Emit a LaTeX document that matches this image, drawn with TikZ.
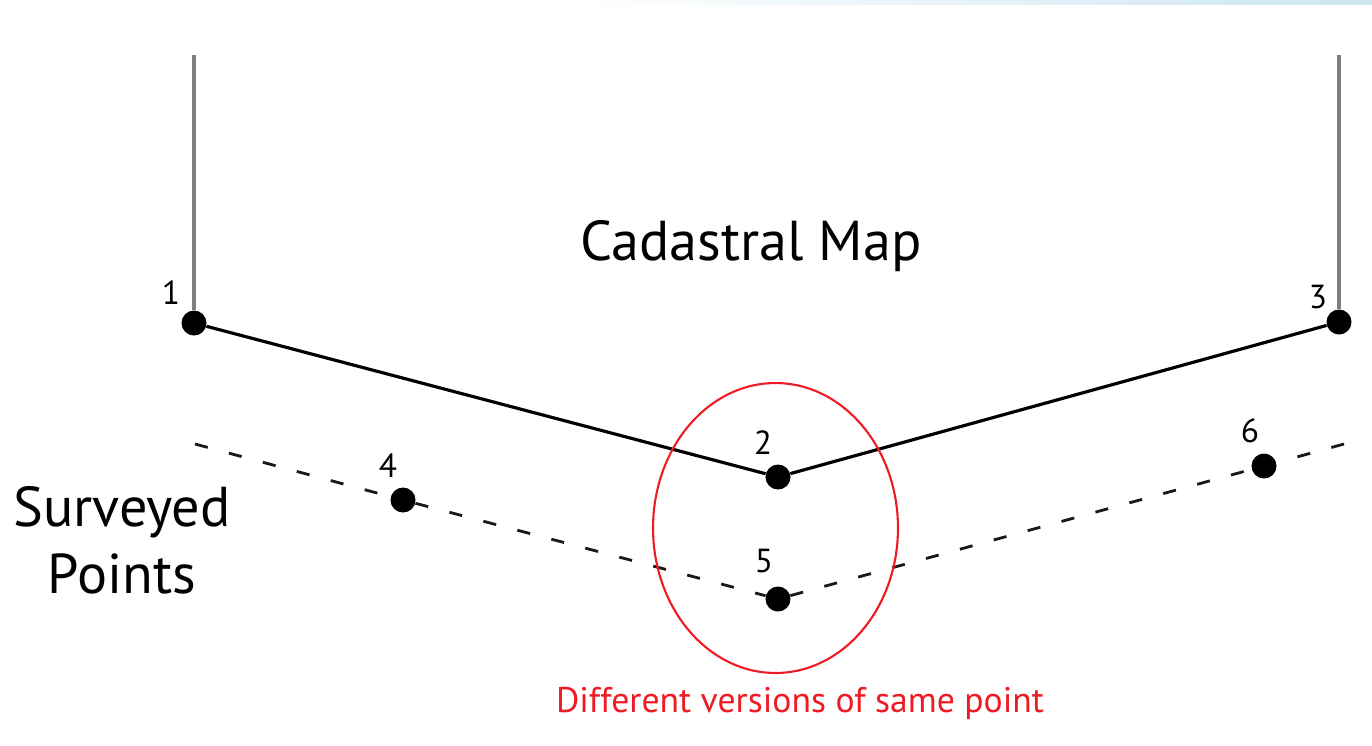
\documentclass[tikz,border=0pt]{standalone}
\usepackage{fontspec}
\setmainfont{PT Sans}
\usetikzlibrary{shapes.geometric}
\definecolor{ringred}{RGB}{237,28,36}
\definecolor{bandblue}{RGB}{205,230,242}
\begin{document}
\begin{tikzpicture}[x=0.02cm,y=-0.02cm,
  dot/.style={circle,fill=black,inner sep=0pt,minimum size=0.5cm},
  numlbl/.style={inner sep=0pt,font=\fontsize{19pt}{20pt}\selectfont},
  bigtxt/.style={inner sep=0pt,font=\fontsize{32pt}{38pt}\selectfont,align=center},
  maplines/.style={line width=1.8pt,black},
  survey/.style={line width=1.6pt,black!90,dash pattern=on 7.5pt off 12.5pt},
  post/.style={line width=2.6pt,black!50}]
\useasboundingbox (0,0) rectangle (1372,745);
\shade[left color=white,right color=bandblue] (560,0) rectangle (1372,4);
% points
\node[dot] (p1) at (194,323) {};
\node[dot] (p2) at (778,477) {};
\node[dot] (p3) at (1339,322) {};
\node[dot] (p4) at (403,500) {};
\node[dot] (p5) at (778,599) {};
\node[dot] (p6) at (1264,466) {};
\coordinate (t1) at (194,55);
\coordinate (t3) at (1339,55);
\coordinate (d0) at (195,444);
\coordinate (d1) at (1344,444);
% lines
\draw[post] (t1) -- (p1);
\draw[post] (t3) -- (p3);
\draw[maplines] (p1) -- (p2) -- (p3);
\draw[survey] (d0) -- (p4) -- (p5) -- (p6);
\draw[survey] (d1) -- (p6);
% ellipse
\node[draw=ringred,line width=1.2pt,ellipse,minimum width=4.9cm,minimum height=5.8cm,inner sep=0pt] (ring) at (775.5,528) {};
% labels
\node[numlbl] (l1) at (171,293) {1};
\node[numlbl] (l2) at (763,443) {2};
\node[numlbl] (l3) at (1318,297) {3};
\node[numlbl] (l4) at (388,466) {4};
\node[numlbl] (l5) at (764,561) {5};
\node[numlbl] (l6) at (1250,431) {6};
\node[bigtxt] (map) at (751,246) {Cadastral Map};
\node[bigtxt] (surv) at (122,540) {Surveyed\\Points};
\node[inner sep=0pt,text=ringred,font=\fontsize{20.3pt}{22pt}\selectfont] (cap) at (800,703) {Different versions of same point};
\end{tikzpicture}
\end{document}
